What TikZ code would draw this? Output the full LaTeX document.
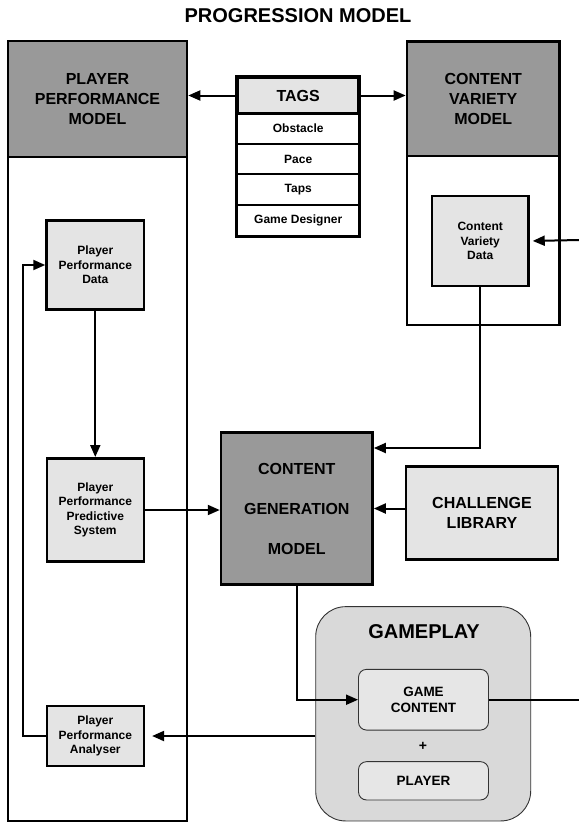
\documentclass[tikz,border=0pt]{standalone}
\usepackage{fontspec}
\setmainfont{Liberation Sans}
\usetikzlibrary{arrows.meta,calc}
\definecolor{dgray}{HTML}{999999}
\definecolor{lgray}{HTML}{E4E4E4}
\definecolor{gpgray}{HTML}{D9D9D9}
\definecolor{gcgray}{HTML}{E6E6E6}
\begin{document}
\begin{tikzpicture}[x=1pt,y=-1pt,
  box/.style={draw,line width=2.6pt,inner sep=0pt,align=center},
  hdr/.style={box,fill=dgray,font=\fontsize{16}{20}\selectfont\bfseries},
  small/.style={box,fill=lgray,font=\fontsize{12}{14.5}\selectfont\bfseries},
  row/.style={draw,line width=1.2pt,inner sep=0pt,fill=white,minimum width=121pt,font=\fontsize{12}{14}\selectfont\bfseries},
  rbox/.style={draw=black!80,line width=0.9pt,inner sep=0pt,align=center,rounded corners=8pt,fill=gcgray,font=\fontsize{13.5}{15.5}\selectfont\bfseries},
  arr/.style={line width=2pt,-{Triangle[length=12pt,width=10pt]}},
  ln/.style={line width=2pt}]
\useasboundingbox (0,0) rectangle (579,823);

% title
\node[font=\fontsize{20}{24}\selectfont\bfseries] (title) at (298,16) {PROGRESSION MODEL};

% player performance model
\node[box,fill=white,minimum width=179pt,minimum height=664pt] (ppmbody) at (97.5,489) {};
\node[hdr,minimum width=179pt,minimum height=116pt] (ppm) at (97.5,99) {PLAYER\\PERFORMANCE\\MODEL};

% content variety model
\node[box,fill=white,minimum width=152.5pt,minimum height=169pt] (cvbody) at (483.2,240.5) {};
\node[hdr,minimum width=152.5pt,minimum height=114.5pt] (cv) at (483.2,98.8) {CONTENT\\VARIETY\\MODEL};

% tags
\node[row,minimum height=30.7pt] (obs) at (298.2,128.7) {Obstacle};
\node[row,minimum height=30pt] (pace) at (298.2,159) {Pace};
\node[row,minimum height=31pt] (taps) at (298.2,189.5) {Taps};
\node[row,minimum height=31pt] (gd) at (298.2,220.5) {Game Designer};
\node[box,fill=lgray,minimum width=121pt,minimum height=35.6pt,font=\fontsize{16}{20}\selectfont\bfseries] (tags) at (298.2,95.5) {TAGS};
\draw[line width=2.6pt] (tags.north west) rectangle (gd.south east);

% inner boxes
\node[small,minimum width=97.5pt,minimum height=89pt] (ppd) at (95.3,265) {Player\\Performance\\Data};
\node[small,minimum width=97pt,minimum height=103.4pt] (ppps) at (95.3,510) {Player\\Performance\\Predictive\\System};
\node[small,minimum width=97pt,minimum height=60pt] (ppa) at (95.3,736) {Player\\Performance\\Analyser};
\node[small,minimum width=96.5pt,minimum height=90pt] (cvd) at (480.2,241) {Content\\Variety\\Data};

\node[box,fill=dgray,minimum width=151.5pt,minimum height=151.5pt,font=\fontsize{16}{40}\selectfont\bfseries] (cgm) at (296.8,508.5) {CONTENT\\GENERATION\\MODEL};
\node[box,fill=lgray,minimum width=152pt,minimum height=92.8pt,font=\fontsize{16}{19.5}\selectfont\bfseries] (cl) at (482,513) {CHALLENGE\\LIBRARY};

% gameplay
\node[draw=black!80,line width=0.9pt,fill=gpgray,rounded corners=30pt,minimum width=215pt,minimum height=214.3pt,inner sep=0pt] (gp) at (423.2,713.8) {};
\node[font=\fontsize{20}{24}\selectfont\bfseries] (gpt) at (424,632) {GAMEPLAY};
\node[rbox,minimum width=130pt,minimum height=60.7pt] (gc) at (423.5,699.7) {GAME\\CONTENT};
\node[font=\fontsize{14}{16}\selectfont\bfseries] (plus) at (423,746.7) {+};
\node[rbox,minimum width=130pt,minimum height=38.3pt] (pl) at (423.5,780.8) {PLAYER};

% free ends
\coordinate (outR) at (579,699.7);
\coordinate (inR) at (579,240);

% connectors
\draw[arr] (tags.west) -- (tags.west -| ppm.east);
\draw[arr] (tags.east) -- (tags.east -| cv.west);
\draw[arr] (cvd.south) |- ([yshift=60.5pt]cgm.east);
\draw[arr] (cgm.east -| cl.west) -- (cgm.east);
\draw[arr] (ppps.east) -- (ppps.east -| cgm.west);
\draw[arr] (ppd.south) -- (ppps.north);
\draw[arr] (cgm.south) |- (gc.west);
\draw[ln] (gc.east) -- (outR);
\draw[arr,shorten >=3pt] (inR) -- (cvd.east);
\draw[arr,shorten >=7pt] (gp.west |- ppa.east) -- (ppa.east);
\draw[arr] (ppa.west) -- ++(-23,0) |- (ppd.west);
\end{tikzpicture}
\end{document}
